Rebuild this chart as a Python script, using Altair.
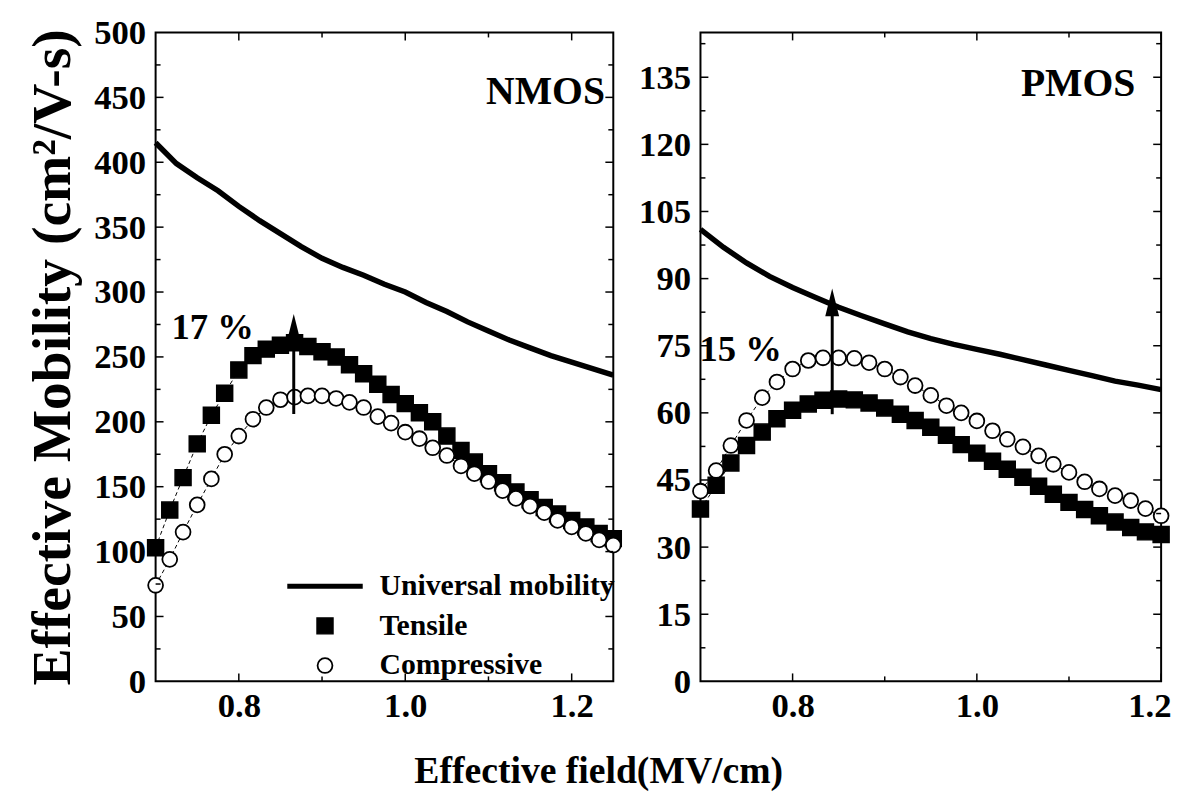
import altair as alt
import pandas as pd

FONT = "Liberation Serif"

# ---------------- NMOS data ----------------
nmos_univ_x = [0.700, 0.725, 0.750, 0.775, 0.800, 0.825, 0.850, 0.875, 0.900, 0.925, 0.950, 0.975,
               1.000, 1.025, 1.050, 1.075, 1.100, 1.125, 1.150, 1.175, 1.200, 1.225, 1.250]
nmos_univ_y = [415, 399, 388, 378, 366, 355, 345, 335, 326, 319, 313, 306,
               300, 292, 285, 277, 270, 263, 257, 251, 246, 241, 236]
nmos_x = [0.700, 0.717, 0.733, 0.750, 0.767, 0.783, 0.800, 0.817, 0.833, 0.850, 0.867, 0.883,
          0.900, 0.917, 0.933, 0.950, 0.967, 0.983, 1.000, 1.017, 1.033, 1.050, 1.067, 1.083,
          1.100, 1.117, 1.133, 1.150, 1.167, 1.183, 1.200, 1.217, 1.233, 1.250]
nmos_tensile = [103, 132, 157, 183, 205, 222, 240, 251, 256, 259, 261, 258,
                254, 250, 244, 237, 229, 221, 214, 207, 200, 189, 178, 169,
                160, 153, 146, 140, 134, 129, 124, 119, 114, 110]
nmos_compressive = [74, 94, 115, 136, 156, 175, 189, 202, 211, 217, 219, 220,
                    220, 218, 215, 211, 204, 199, 192, 187, 180, 174, 166, 160,
                    154, 147, 141, 135, 130, 124, 119, 114, 109, 105]

# ---------------- PMOS data ----------------
pmos_univ_x = [0.700, 0.725, 0.750, 0.775, 0.800, 0.825, 0.850, 0.875, 0.900, 0.925, 0.950,
               0.975, 1.000, 1.025, 1.050, 1.075, 1.100, 1.125, 1.150, 1.175, 1.200]
pmos_univ_y = [101, 97, 93.5, 90.5, 88, 85.8, 83.6, 81.7, 79.9, 78.1, 76.6,
               75.3, 74.2, 73.1, 71.9, 70.7, 69.5, 68.3, 67.1, 66.2, 65.2]
pmos_x = [0.700, 0.717, 0.733, 0.750, 0.767, 0.783, 0.800, 0.817, 0.833, 0.850, 0.867,
          0.883, 0.900, 0.917, 0.933, 0.950, 0.967, 0.983, 1.000, 1.017, 1.033, 1.050,
          1.067, 1.083, 1.100, 1.117, 1.133, 1.150, 1.167, 1.183, 1.200]
pmos_tensile = [38.5, 43.8, 48.8, 52.7, 55.7, 58.7, 60.6, 62.0, 62.8, 63.1, 62.9,
                62.2, 61.1, 59.7, 58.3, 56.8, 55.0, 52.9, 51.0, 49.2, 47.4, 45.6,
                43.6, 41.8, 40.0, 38.4, 37.0, 35.6, 34.4, 33.4, 32.8]
pmos_compressive = [42.5, 47.1, 52.7, 58.3, 63.4, 66.9, 69.8, 71.7, 72.3, 72.3, 72.2,
                    71.2, 69.8, 68.0, 66.1, 63.9, 61.6, 60.0, 58.2, 56.0, 54.1, 52.4,
                    50.4, 48.5, 46.7, 44.6, 43.0, 41.5, 40.4, 38.6, 37.0]

series_names = ["Universal mobility", "Tensile", "Compressive"]

# ---------------- axes / ticks ----------------
nmos_xdomain = [0.7, 1.25]
nmos_ydomain = [0, 500]
nmos_xlabels = [0.8, 1.0, 1.2]
nmos_xminor = [0.9, 1.1]
nmos_ylabels = [0, 50, 100, 150, 200, 250, 300, 350, 400, 450, 500]
nmos_ymajor = [50, 100, 150, 200, 250, 300, 350, 400, 450]
nmos_yminor = [25, 75, 125, 175, 225, 275, 325, 375, 425, 475]

pmos_xdomain = [0.7, 1.2]
pmos_ydomain = [0, 145]
pmos_xlabels = [0.8, 1.0, 1.2]
pmos_xminor = [0.9, 1.1]
pmos_ylabels = [0, 15, 30, 45, 60, 75, 90, 105, 120, 135]
pmos_ymajor = [15, 30, 45, 60, 75, 90, 105, 120, 135]
pmos_yminor = [7.5, 22.5, 37.5, 52.5, 67.5, 82.5, 97.5, 112.5, 127.5, 142.5]

# ---------------- annotations ----------------
nmos_tag = ["NMOS"]; nmos_tag_x = [1.240]; nmos_tag_y = [454]
nmos_pct = ["17 %"]; nmos_pct_x = [0.719]; nmos_pct_y = [272]
nmos_arrow_x = [0.866]; nmos_arrow_from = [206]; nmos_arrow_head = [273.5]

pmos_tag = ["PMOS"]; pmos_tag_x = [1.172]; pmos_tag_y = [133.4]
pmos_pct = ["15 %"]; pmos_pct_x = [0.699]; pmos_pct_y = [74]
pmos_arrow_x = [0.843]; pmos_arrow_from = [59.7]; pmos_arrow_head = [84.7]

ARROW_PATH = "M0,-1L-0.5,1L0.5,1Z"


def make_panel(ux, uy, px, pt, pc, xdom, ydom, xlabels, xminor, ylabels, ymajor, yminor,
               W, H, tag, tagx, tagy, pct, pctx, pcty, ax, afrom, ahead, head_size,
               ytitle, with_legend, sq_size, ci_size, flush):
    xs = alt.Scale(domain=xdom, nice=False, zero=False)
    ys = alt.Scale(domain=ydom, nice=False, zero=False)
    lab = dict(labelFont=FONT, labelFontSize=35, labelFontWeight="bold", labelColor="black",
               labelOverlap=False, ticks=False, domain=False, grid=False)
    if flush:
        xaxis = alt.Axis(values=xlabels, format=".1f", title=None, labelPadding=7,
                         labelFlush=True, labelFlushOffset=10, **lab)
    else:
        xaxis = alt.Axis(values=xlabels, format=".1f", title=None, labelPadding=7,
                         labelFlush=False, **lab)
    if ytitle:
        yaxis = alt.Axis(values=ylabels, format="d", title=ytitle, titleFont=FONT,
                         titleFontSize=56, titleFontWeight="bold", titleColor="black",
                         titlePadding=12, labelPadding=10, labelFlush=False, **lab)
    else:
        yaxis = alt.Axis(values=ylabels, format="d", title=None, labelPadding=10,
                         labelFlush=False, **lab)

    X = lambda f="x": alt.X(f"{f}:Q", scale=xs, axis=xaxis)
    Y = lambda f="v": alt.Y(f"{f}:Q", scale=ys, axis=yaxis)

    univ_df = pd.DataFrame({"x": ux, "v": uy})
    pts_df = pd.DataFrame({"x": px + px, "v": pt + pc,
                           "s": ["Tensile"] * len(px) + ["Compressive"] * len(px)})

    univ = alt.Chart(univ_df).mark_line(color="black", strokeWidth=5.5).encode(x=X(), y=Y())
    conn = alt.Chart(pts_df).mark_line(color="black", strokeWidth=1, strokeDash=[4, 3]).encode(
        x=X(), y=Y(), detail="s:N")

    if with_legend:
        leg = alt.Legend(title=None, orient="none", legendX=130, legendY=518, direction="vertical",
                         labelFont=FONT, labelFontSize=30, labelFontWeight="bold",
                         labelColor="black", labelOffset=14, rowPadding=10, padding=0,
                         labelLimit=500, symbolOpacity=1)
    else:
        leg = None
    shape = alt.Shape("s:N", scale=alt.Scale(domain=series_names, range=["stroke", "square", "circle"]),
                      legend=leg)
    fill = alt.Fill("s:N", scale=alt.Scale(domain=series_names, range=["black", "black", "white"]),
                    legend=leg)
    stroke = alt.Stroke("s:N", scale=alt.Scale(domain=series_names, range=["black", "black", "black"]),
                        legend=leg)
    size = alt.Size("s:N", scale=alt.Scale(type="ordinal", domain=series_names,
                                           range=[5800, sq_size, ci_size]), legend=leg)
    sw = alt.StrokeWidth("s:N", scale=alt.Scale(type="ordinal", domain=series_names,
                                                 range=[5, 1.5, 1.8]), legend=leg)
    pts = alt.Chart(pts_df).mark_point(filled=True, opacity=1).encode(
        x=X(), y=Y(), shape=shape, fill=fill, stroke=stroke, size=size, strokeWidth=sw)

    arrow_df = pd.DataFrame({"x": ax, "v": afrom, "v2": ahead})
    shaft = alt.Chart(arrow_df).mark_rule(color="black", strokeWidth=3).encode(
        x=X(), y=Y(), y2="v2:Q")
    head_df = pd.DataFrame({"x": ax, "v": ahead})
    head = alt.Chart(head_df).mark_point(shape=ARROW_PATH, filled=True, color="black", opacity=1,
                                         size=head_size).encode(x=X(), y=Y())

    tag_df = pd.DataFrame({"x": tagx, "v": tagy, "t": tag})
    tag_l = alt.Chart(tag_df).mark_text(font=FONT, fontSize=40, fontWeight="bold", color="black",
                                        align="right", baseline="middle").encode(x=X(), y=Y(), text="t:N")
    pct_df = pd.DataFrame({"x": pctx, "v": pcty, "t": pct})
    pct_l = alt.Chart(pct_df).mark_text(font=FONT, fontSize=37, fontWeight="bold", color="black",
                                        align="left", baseline="middle").encode(x=X(), y=Y(), text="t:N")

    LMAJ, LMIN = 8, 5
    xmaj_df = pd.DataFrame({"x": xlabels})
    xmin_df = pd.DataFrame({"x": xminor})
    ymaj_df = pd.DataFrame({"v": ymajor})
    ymin_df = pd.DataFrame({"v": yminor})
    tick = dict(color="black", strokeWidth=1.5)
    ticks = [
        alt.Chart(xmaj_df).mark_rule(**tick).encode(x=X(), y=alt.value(H), y2=alt.value(H - LMAJ)),
        alt.Chart(xmaj_df).mark_rule(**tick).encode(x=X(), y=alt.value(0), y2=alt.value(LMAJ)),
        alt.Chart(xmin_df).mark_rule(**tick).encode(x=X(), y=alt.value(H), y2=alt.value(H - LMIN)),
        alt.Chart(xmin_df).mark_rule(**tick).encode(x=X(), y=alt.value(0), y2=alt.value(LMIN)),
        alt.Chart(ymaj_df).mark_rule(**tick).encode(y=Y(), x=alt.value(0), x2=alt.value(LMAJ)),
        alt.Chart(ymaj_df).mark_rule(**tick).encode(y=Y(), x=alt.value(W), x2=alt.value(W - LMAJ)),
        alt.Chart(ymin_df).mark_rule(**tick).encode(y=Y(), x=alt.value(0), x2=alt.value(LMIN)),
        alt.Chart(ymin_df).mark_rule(**tick).encode(y=Y(), x=alt.value(W), x2=alt.value(W - LMIN)),
    ]

    return alt.layer(univ, conn, pts, shaft, head, tag_l, pct_l, *ticks).properties(width=W, height=H)


nmos = make_panel(nmos_univ_x, nmos_univ_y, nmos_x, nmos_tensile, nmos_compressive,
                  nmos_xdomain, nmos_ydomain, nmos_xlabels, nmos_xminor, nmos_ylabels,
                  nmos_ymajor, nmos_yminor, 462, 655,
                  nmos_tag, nmos_tag_x, nmos_tag_y, nmos_pct, nmos_pct_x, nmos_pct_y,
                  nmos_arrow_x, nmos_arrow_from, nmos_arrow_head, 625,
                  "Effective Mobility (cm²/V-s)", True, 260, 225, False)

pmos = make_panel(pmos_univ_x, pmos_univ_y, pmos_x, pmos_tensile, pmos_compressive,
                  pmos_xdomain, pmos_ydomain, pmos_xlabels, pmos_xminor, pmos_ylabels,
                  pmos_ymajor, pmos_yminor, 465, 655,
                  pmos_tag, pmos_tag_x, pmos_tag_y, pmos_pct, pmos_pct_x, pmos_pct_y,
                  pmos_arrow_x, pmos_arrow_from, pmos_arrow_head, 784,
                  None, False, 260, 225, True)

chart = alt.hconcat(nmos, pmos, spacing=11).resolve_scale(
    x="independent", y="independent", shape="independent", fill="independent",
    stroke="independent", size="independent", strokeWidth="independent"
).resolve_legend(
    shape="independent", fill="independent", stroke="independent", size="independent",
    strokeWidth="independent"
).properties(
    title=alt.TitleParams(text="Effective field(MV/cm)", orient="bottom", anchor="middle",
                          font=FONT, fontSize=38, fontWeight="bold", color="black", offset=30),
    padding={"left": 16, "top": 3, "right": 0, "bottom": 0},
    background="white",
).configure_view(stroke="black", strokeWidth=2)

chart.save("out.html", embed_options={"renderer": "svg", "actions": False})
